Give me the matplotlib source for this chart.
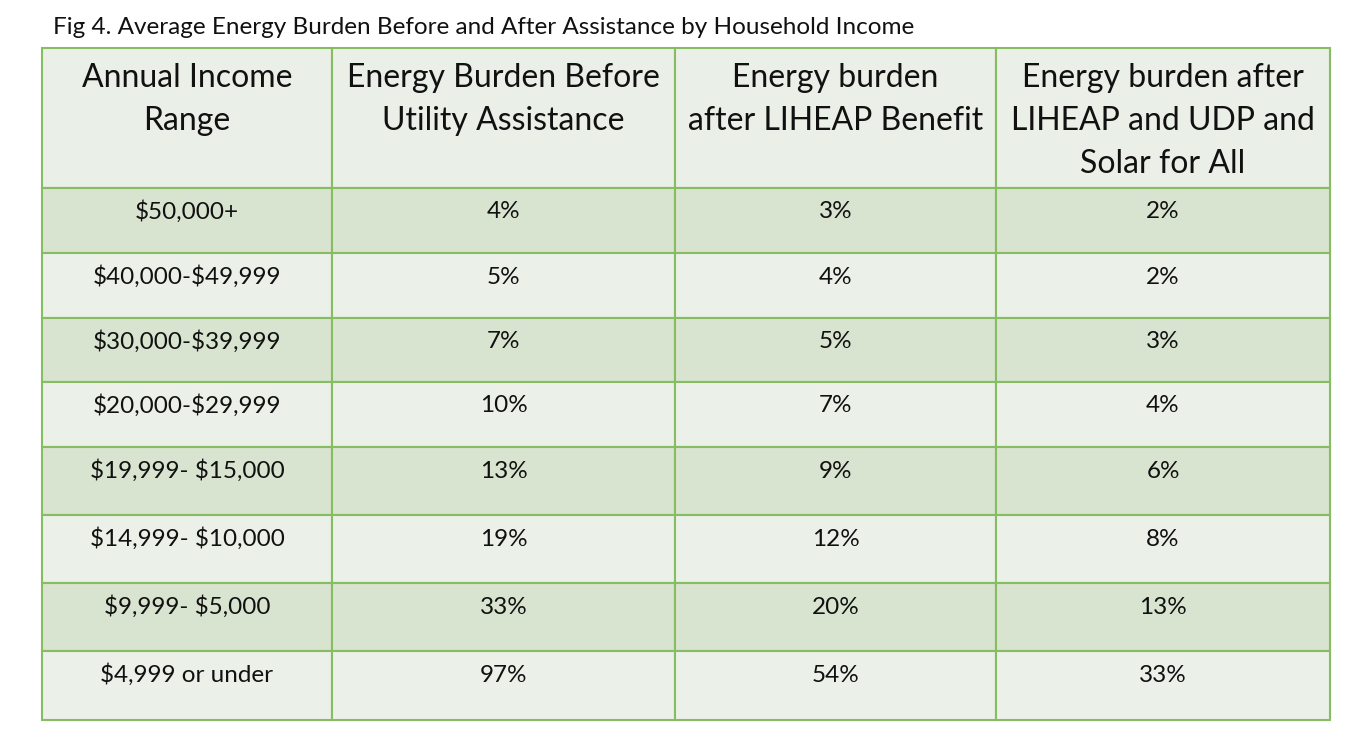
import matplotlib.pyplot as plt
from matplotlib.patches import Rectangle

plt.rcParams['font.family'] = ['Lato', 'DejaVu Sans']
plt.rcParams['text.parse_math'] = False

title = "Fig 4. Average Energy Burden Before and After Assistance by Household Income"
headers = [["Annual Income", "Range"],
           ["Energy Burden Before", "Utility Assistance"],
           ["Energy burden", "after LIHEAP Benefit"],
           ["Energy burden after", "LIHEAP and UDP and", "Solar for All"]]
income = ["$50,000+", "$40,000-$49,999", "$30,000-$39,999", "$20,000-$29,999",
          "$19,999- $15,000", "$14,999- $10,000", "$9,999- $5,000", "$4,999 or under"]
before = [4, 5, 7, 10, 13, 19, 33, 97]
after_liheap = [3, 4, 5, 7, 9, 12, 20, 54]
after_all = [2, 2, 3, 4, 6, 8, 13, 33]

# layout in pixels
col_edges = [42, 332, 675, 996, 1330]
row_edges = [48, 188, 253, 318, 382, 447, 515, 583, 651, 720]
header_bg = "#eaefe7"
band_dark = "#d8e4cf"
band_light = "#ebf0e8"
line_col = "#86bd63"

fig = plt.figure(figsize=(13.48, 7.52), dpi=100)
ax = fig.add_axes([0, 0, 1, 1])
ax.set_xlim(0, 1348)
ax.set_ylim(752, 0)
ax.axis('off')

ax.text(53, 28, title, fontsize=17.5, va='center', ha='left', color='#111111')

rows = [[income[i], f"{before[i]}%", f"{after_liheap[i]}%", f"{after_all[i]}%"]
        for i in range(len(income))]

# header
for c in range(4):
    x0, x1 = col_edges[c], col_edges[c + 1]
    y0, y1 = row_edges[0], row_edges[1]
    ax.add_patch(Rectangle((x0, y0), x1 - x0, y1 - y0, facecolor=header_bg,
                           edgecolor=line_col, linewidth=1.5))
    for k, line in enumerate(headers[c]):
        ax.text((x0 + x1) / 2, 78 + 43 * k, line, fontsize=23, ha='center',
                va='center', color='#111111')

# body
for r, row in enumerate(rows):
    y0, y1 = row_edges[r + 1], row_edges[r + 2]
    bg = band_dark if r % 2 == 0 else band_light
    for c in range(4):
        x0, x1 = col_edges[c], col_edges[c + 1]
        ax.add_patch(Rectangle((x0, y0), x1 - x0, y1 - y0, facecolor=bg,
                               edgecolor=line_col, linewidth=1.5))
        ax.text((x0 + x1) / 2, y0 + 24, row[c], fontsize=17.5, ha='center',
                va='center', color='#111111')

fig.savefig("out.png", dpi=100, facecolor='white')
